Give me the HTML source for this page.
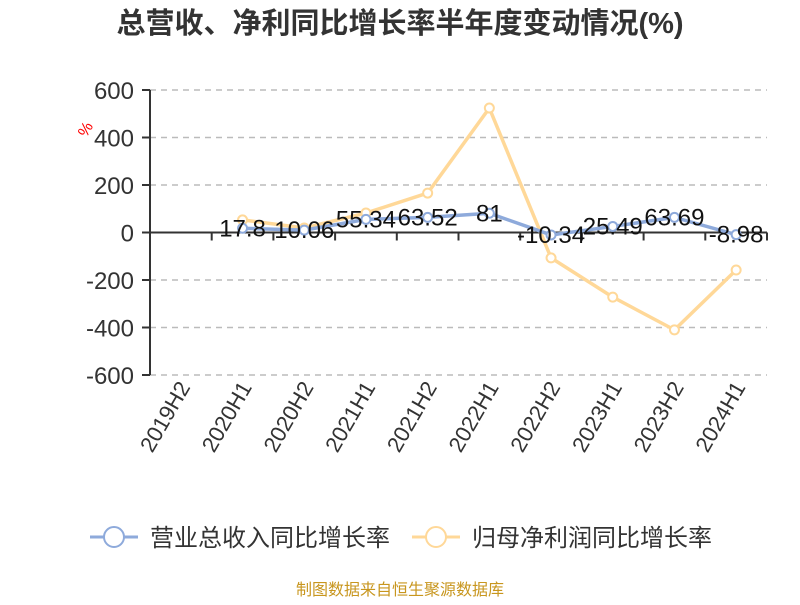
<!DOCTYPE html>
<html><head><meta charset="utf-8"><style>body{margin:0;background:#fff}svg{font-family:"Liberation Sans","Noto Sans CJK SC",sans-serif}</style></head>
<body>
<svg id="c" width="800" height="600" xmlns="http://www.w3.org/2000/svg">
<text x="400" y="33" text-anchor="middle" font-size="29" font-weight="bold" fill="#333">总营收、净利同比增长率半年度变动情况(%)</text>
<text x="90" y="132" font-size="16" fill="red" transform="rotate(-60 90 132)" text-anchor="middle">%</text>
<g id="grid"></g><g id="axes"></g><g id="series"></g>
<g>
<g><line x1="90" y1="537" x2="138" y2="537" stroke="#8eaadb" stroke-width="3"/><circle cx="114" cy="537" r="10" fill="#fff" stroke="#8eaadb" stroke-width="2"/><text x="150" y="546" font-size="24" fill="#333">营业总收入同比增长率</text></g>
<g><line x1="412" y1="537" x2="460" y2="537" stroke="#ffd898" stroke-width="3"/><circle cx="436" cy="537" r="10" fill="#fff" stroke="#ffd898" stroke-width="2"/><text x="472" y="546" font-size="24" fill="#333">归母净利润同比增长率</text></g>
</g>
<text x="400" y="595" text-anchor="middle" font-size="16" fill="#c8961e">制图数据来自恒生聚源数据库</text>
</svg>
<script>
const categories=["2019H2","2020H1","2020H2","2021H1","2021H2","2022H1","2022H2","2023H1","2023H2","2024H1"];
const revenue=[null,17.8,10.06,55.34,63.52,81,-10.34,25.49,63.69,-8.98];
const profit=[null,53,19,82,166,524,-107,-272,-410,-158];
const yTicks=[600,400,200,0,-200,-400,-600];
const NS="http://www.w3.org/2000/svg";
const L=150,R=767,T=90,B=375,yMin=-600,yMax=600;
const bw=(R-L)/categories.length;
const xs=i=>L+bw*(i+0.5);
const ys=v=>B-(v-yMin)/(yMax-yMin)*(B-T);
function mk(tag,at,parent){const e=document.createElementNS(NS,tag);for(const k in at)e.setAttribute(k,at[k]);parent.appendChild(e);return e;}
const grid=document.getElementById('grid'),axes=document.getElementById('axes'),ser=document.getElementById('series');
yTicks.forEach(v=>{const y=ys(v);
 if(v!==0){const g=mk('line',{x1:L,x2:R,y1:y,y2:y,stroke:'#bbb','stroke-dasharray':'6,5','stroke-width':1.5},grid);
 }
 const t=mk('line',{x1:L-8,x2:L,y1:y,y2:y,stroke:'#333','stroke-width':2},axes);
 
 const tx=mk('text',{x:L-16,y:y+9,'text-anchor':'end','font-size':24,fill:'#333'},axes);tx.textContent=v;
 
});
const ya=mk('line',{x1:L,x2:L,y1:T,y2:B,stroke:'#333','stroke-width':2},axes);

const y0=ys(0);
const xa=mk('line',{x1:L,x2:R,y1:y0,y2:y0,stroke:'#333','stroke-width':2},axes);

categories.forEach((c,i)=>{const x=L+bw*(i+1);
 const t=mk('line',{x1:x,x2:x,y1:y0,y2:y0+8,stroke:'#333','stroke-width':2},axes);
 
 const cx=xs(i);
 const tx=mk('text',{x:cx+10,y:B+12,'text-anchor':'end','font-size':22,fill:'#333',transform:`rotate(-60 ${cx+10} ${B+12})`},axes);
 tx.textContent=c;
});
function drawSeries(data,color,name){
 const pts=data.map((v,i)=>v==null?null:[xs(i),ys(v)]).filter(p=>p);
 const pl=mk('polyline',{points:pts.map(p=>p.join(',')).join(' '),fill:'none',stroke:color,'stroke-width':3.5,'stroke-linejoin':'round'},ser);
 
 data.forEach((v,i)=>{if(v==null)return;
  const c=mk('circle',{cx:xs(i),cy:ys(v),r:4.5,fill:'#fff',stroke:color,'stroke-width':2},ser);
  
 });
}
drawSeries(profit,'#ffd898','profit');
drawSeries(revenue,'#8eaadb','revenue');
revenue.forEach((v,i)=>{if(v==null)return;
 const t=mk('text',{x:xs(i),y:ys(v)+8,'text-anchor':'middle','font-size':24,fill:'#111'},ser);
 t.textContent=v;
});
</script>
</body></html>
